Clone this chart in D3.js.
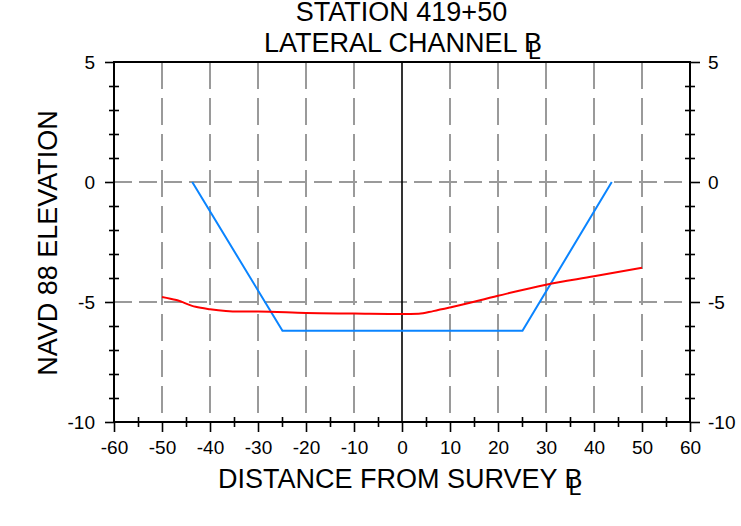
<!DOCTYPE html>
<html><head><meta charset="utf-8">
<script src="https://cdn.jsdelivr.net/npm/d3@7"></script>
<style>
html,body{margin:0;padding:0;background:#fff;}
svg{display:block;font-family:"Liberation Sans",Arial,sans-serif;}
</style></head>
<body><svg id="c" width="741" height="526"></svg>
<script>
const titleLines = ["STATION 419+50", "LATERAL CHANNEL "];
const xLabel = "DISTANCE FROM SURVEY ";
const yLabel = "NAVD 88 ELEVATION";
const xDomain = [-60, 60];
const yDomain = [-10, 5];
const xMajor = [-60, -50, -40, -30, -20, -10, 0, 10, 20, 30, 40, 50, 60];
const xMinor = [-55, -45, -35, -25, -15, -5, 5, 15, 25, 35, 45, 55];
const yMajor = [-10, -5, 0, 5];
const yMinor = [-9, -8, -7, -6, -4, -3, -2, -1, 1, 2, 3, 4];
const designX = [-43.7, -24.9, 25.1, 43.7];
const designY = [0, -6.2, -6.2, 0];
const groundX = [-50, -47, -43, -40, -34, -30, -20, -10, 0, 3.5, 6.5, 10, 20, 30, 40, 50];
const groundY = [-4.79, -4.92, -5.2, -5.3, -5.4, -5.4, -5.46, -5.48, -5.5, -5.49, -5.38, -5.23, -4.74, -4.28, -3.93, -3.57];

const L = 114, R = 690, T = 62, B = 422;
const svg = d3.select("#c");
const x = d3.scaleLinear().domain(xDomain).range([L, R]);
const y = d3.scaleLinear().domain(yDomain).range([B, T]);
const fs = 19;
const big = 27;
const fmt = d => String(d);

// grid
const grid = svg.append("g").attr("stroke", "#9a9a9a").attr("stroke-width", 2).attr("fill", "none");
xMajor.filter(v => v !== 0 && v !== xDomain[0] && v !== xDomain[1]).forEach(v => {
  grid.append("line").attr("x1", x(v)).attr("x2", x(v)).attr("y1", T).attr("y2", B)
    .attr("stroke-dasharray", "27,9");
});
yMajor.filter(v => v !== yDomain[0] && v !== yDomain[1]).forEach(v => {
  grid.append("line").attr("x1", L).attr("x2", R).attr("y1", y(v)).attr("y2", y(v))
    .attr("stroke-dasharray", "18,7");
});

// zero line
svg.append("line").attr("x1", x(0)).attr("x2", x(0)).attr("y1", T).attr("y2", B)
  .attr("stroke", "#000").attr("stroke-width", 1.6);

function styleAxis(g) {
  g.select(".domain").remove();
  g.selectAll("line").attr("stroke", "#000").attr("stroke-width", 1.6);
  g.selectAll("text").attr("font-size", fs).attr("fill", "#000").attr("font-family", "Liberation Sans, Arial, sans-serif");
}
// left axis
svg.append("g").attr("transform", `translate(${L},0)`)
  .call(d3.axisLeft(y).tickValues(yMinor).tickSize(5).tickFormat("")).call(styleAxis);
svg.append("g").attr("transform", `translate(${L},0)`)
  .call(d3.axisLeft(y).tickValues(yMinor).tickSize(-5).tickFormat("")).call(styleAxis);
svg.append("g").attr("transform", `translate(${L},0)`)
  .call(d3.axisLeft(y).tickValues(yMajor).tickSize(9).tickPadding(10).tickFormat(fmt)).call(styleAxis);
// right axis
svg.append("g").attr("transform", `translate(${R},0)`)
  .call(d3.axisRight(y).tickValues(yMinor).tickSize(5).tickFormat("")).call(styleAxis);
svg.append("g").attr("transform", `translate(${R},0)`)
  .call(d3.axisRight(y).tickValues(yMinor).tickSize(-5).tickFormat("")).call(styleAxis);
svg.append("g").attr("transform", `translate(${R},0)`)
  .call(d3.axisRight(y).tickValues(yMajor).tickSize(10).tickPadding(8).tickFormat(fmt)).call(styleAxis);
// bottom axis
svg.append("g").attr("transform", `translate(0,${B})`)
  .call(d3.axisBottom(x).tickValues(xMinor).tickSize(5).tickFormat("")).call(styleAxis);
svg.append("g").attr("transform", `translate(0,${B})`)
  .call(d3.axisBottom(x).tickValues(xMinor).tickSize(-5).tickFormat("")).call(styleAxis);
svg.append("g").attr("transform", `translate(0,${B})`)
  .call(d3.axisBottom(x).tickValues(xMajor).tickSize(10).tickPadding(9).tickFormat(fmt)).call(styleAxis);

// frame
svg.append("rect").attr("x", L).attr("y", T).attr("width", R - L).attr("height", B - T)
  .attr("fill", "none").attr("stroke", "#000").attr("stroke-width", 2);

// series
const line = d3.line().x(d => x(d[0])).y(d => y(d[1]));
svg.append("path").datum(designX.map((v, i) => [v, designY[i]]))
  .attr("d", line).attr("fill", "none").attr("stroke", "#0a84ff").attr("stroke-width", 2);
svg.append("path").datum(groundX.map((v, i) => [v, groundY[i]]))
  .attr("d", line.curve(d3.curveMonotoneX)).attr("fill", "none").attr("stroke", "#ff0000").attr("stroke-width", 2);

// centerline symbol helper
function addCL(t) {
  t.append("tspan").text("B");
  t.append("tspan").attr("dx", -14).attr("dy", 7).attr("font-size", 23).text("L");
}
// titles
svg.append("text").attr("x", 401.5).attr("y", 21).attr("text-anchor", "middle")
  .attr("font-size", big).text(titleLines[0]);
const t2 = svg.append("text").attr("x", 264).attr("y", 52).attr("font-size", big);
t2.append("tspan").text(titleLines[1]);
addCL(t2);
const xl = svg.append("text").attr("x", 218).attr("y", 488).attr("font-size", big);
xl.append("tspan").text(xLabel);
addCL(xl);
svg.append("text").attr("transform", `translate(57,243) rotate(-90)`).attr("text-anchor", "middle")
  .attr("font-size", big).text(yLabel);
</script></body></html>
